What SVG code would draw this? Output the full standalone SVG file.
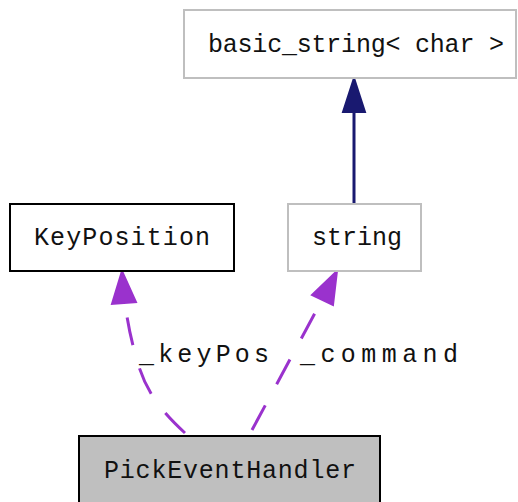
<svg xmlns="http://www.w3.org/2000/svg" width="518" height="502" viewBox="0 0 518 502">
  <style>
    text { font-family: "Liberation Mono", "DejaVu Sans Mono", monospace; font-size: 25px; fill: #111; text-anchor: middle; }
    .node { fill: #fff; stroke-width: 2; }
    .dep { fill: none; stroke: #9a32cd; stroke-width: 3; stroke-dasharray: 28,24; }
    .dephead { fill: #9a32cd; stroke: #9a32cd; stroke-width: 2; }
    .inh { fill: none; stroke: #191970; stroke-width: 3; }
    .inhhead { fill: #191970; stroke: #191970; stroke-width: 2; }
  </style>

  <g id="connectors">
    <!-- inheritance: string -> basic_string< char > -->
    <line class="inh" x1="354" y1="203" x2="354" y2="108"/>
    <polygon class="inhhead" points="354,78 343,112 365,112"/>
    <!-- usage: PickEventHandler -> KeyPosition -->
    <path class="dep" d="M185,433 C160,410 145,390 137,360 C131,340 127,320 125,302"/>
    <polygon class="dephead" points="122,271 112,304 136,302"/>
    <!-- usage: PickEventHandler -> string -->
    <path class="dep" d="M252,430 L322,300"/>
    <polygon class="dephead" points="337,271 312,295 333,305"/>
    <text x="204" y="362" textLength="130" lengthAdjust="spacing">_keyPos</text>
    <text x="379" y="362" textLength="158" lengthAdjust="spacing">_command</text>
  </g>

  <g id="basic_string">
    <rect class="node" x="184" y="10" width="332" height="68" stroke="#bfbfbf"/>
    <text x="356" y="52" textLength="296" lengthAdjust="spacing">basic_string&lt; char &gt;</text>
  </g>

  <g id="string">
    <rect class="node" x="288" y="204" width="133" height="67" stroke="#bfbfbf"/>
    <text x="357" y="245">string</text>
  </g>

  <g id="KeyPosition">
    <rect class="node" x="10" y="204" width="224" height="67" stroke="#000"/>
    <text x="122" y="245" textLength="176" lengthAdjust="spacing">KeyPosition</text>
  </g>

  <g id="PickEventHandler">
    <rect x="79" y="436" width="301" height="80" fill="#bfbfbf" stroke="#000" stroke-width="2"/>
    <text x="230" y="478" textLength="252" lengthAdjust="spacing">PickEventHandler</text>
  </g>
</svg>
